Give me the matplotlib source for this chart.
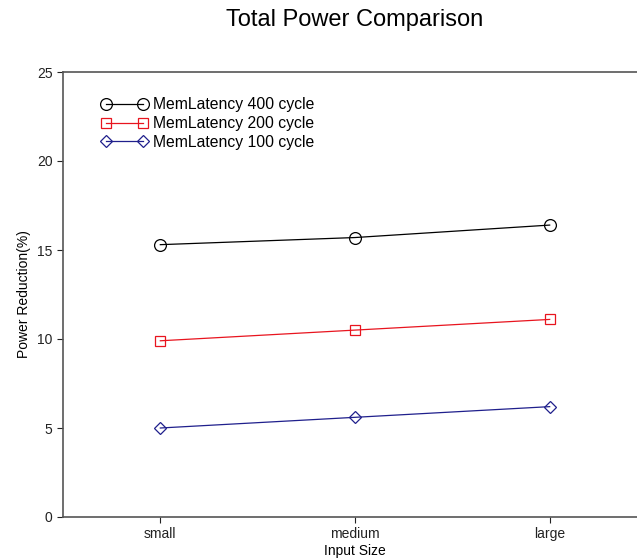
import numpy as np
import matplotlib
matplotlib.use("Agg")
import matplotlib.pyplot as plt

plt.rcParams['font.family'] = ['Liberation Sans', 'DejaVu Sans']

sizes = ["small", "medium", "large"]
lat400 = [15.3, 15.7, 16.4]
lat200 = [9.9, 10.5, 11.1]
lat100 = [5.0, 5.6, 6.2]

fig = plt.figure(figsize=(6.37, 5.6), dpi=100)
ax = fig.add_axes([63/637, 43/560, 584/637, 445/560])

x = np.arange(len(sizes))
ax.plot(x, lat400, color='black', lw=0.9, marker='o', ms=8.5, mfc='none', mew=0.9,
        label='MemLatency 400 cycle')
ax.plot(x, lat200, color='#e8141e', lw=0.9, marker='s', ms=7, mfc='none', mew=0.9,
        label='MemLatency 200 cycle')
ax.plot(x, lat100, color='#1f1f8c', lw=0.9, marker='D', ms=6.5, mfc='none', mew=0.9,
        label='MemLatency 100 cycle')

ax.set_xlim(-0.5, 2.5)
ax.set_ylim(0, 25)
ax.set_xticks(x)
ax.set_xticklabels(sizes)
ax.set_yticks([0, 5, 10, 15, 20, 25])
ax.tick_params(axis='both', direction='out', length=4, width=0.8, labelsize=10, colors='#222222')
ax.tick_params(axis='x', pad=3)

for s in ['left', 'bottom', 'top']:
    ax.spines[s].set_color('#555555')
    ax.spines[s].set_linewidth(1.2)
ax.spines['right'].set_visible(False)

ax.set_xlabel("Input Size", fontsize=10, labelpad=2)
ax.set_ylabel("Power Reduction(%)", fontsize=10)
ax.set_title("Total Power Comparison", fontsize=17, pad=33)

ax.legend(loc='upper left', bbox_to_anchor=(0.041, 0.975), frameon=False, numpoints=2,
          handlelength=3.0, handletextpad=0.3, labelspacing=0.24, fontsize=11.3)

fig.savefig("out.png", dpi=100)
